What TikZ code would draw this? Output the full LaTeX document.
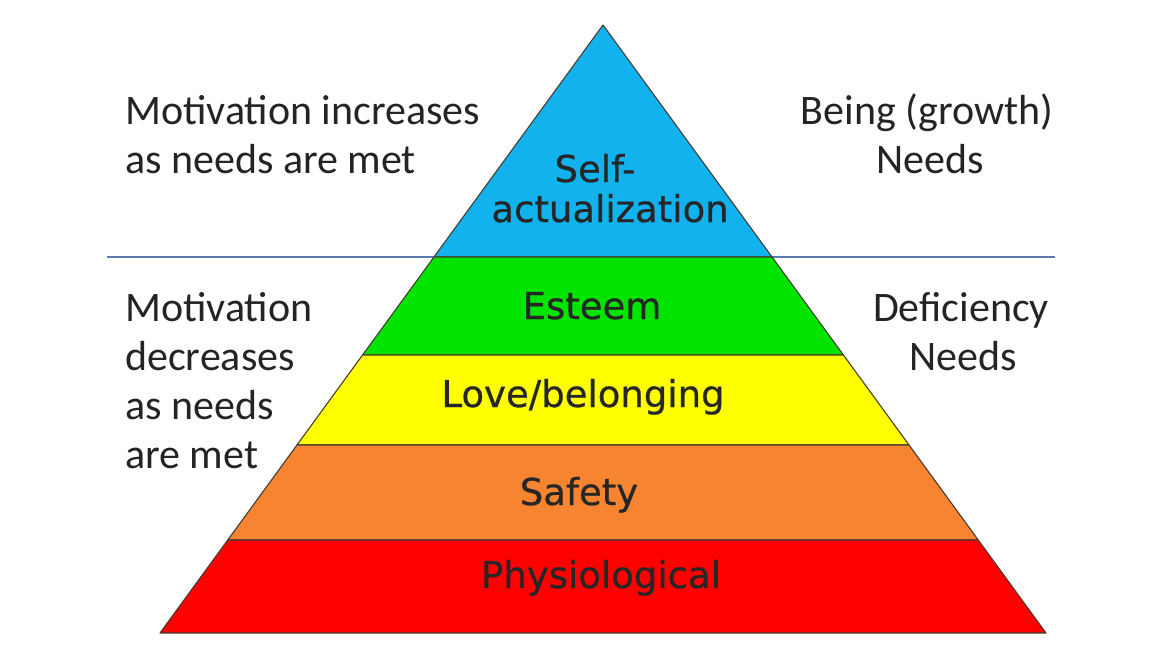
\documentclass[tikz,border=0pt]{standalone}
\usepackage{fontspec}
\setmainfont{Carlito}
\newfontfamily\labfont[FakeBold=0.6]{DejaVu Sans}
\usetikzlibrary{calc}
\definecolor{lvblue}{RGB}{18,178,238}
\definecolor{lvgreen}{RGB}{0,228,0}
\definecolor{lvyellow}{RGB}{255,255,0}
\definecolor{lvorange}{RGB}{246,132,48}
\definecolor{lvred}{RGB}{255,0,0}
\definecolor{sepline}{RGB}{92,122,176}
\definecolor{txt}{RGB}{36,36,36}
\definecolor{edge}{RGB}{70,60,50}
\tikzset{
  layer/.style={draw=edge, line width=1.1pt, line join=round},
  sidetext/.style={anchor=base west, inner sep=0pt, text=txt, font=\fontsize{42}{50}\selectfont},
  sidec/.style={anchor=base, inner sep=0pt, text=txt, font=\fontsize{42}{50}\selectfont},
  labtext/.style={anchor=base, inner sep=0pt, text=black!85, font=\labfont\fontsize{37}{42}\selectfont}
}
\begin{document}
\begin{tikzpicture}[x=1pt,y=-1pt]
\useasboundingbox (0,0) rectangle (1170,658);
\fill[white] (0,0) rectangle (1170,658);
% apex and base corners
\coordinate (A) at (603,25);
\coordinate (BL) at (160,633);
\coordinate (BR) at (1046,633);
\coordinate (L1) at ($(A)!0.38158!(BL)$);
\coordinate (R1) at ($(A)!0.38158!(BR)$);
\coordinate (L2) at ($(A)!0.54276!(BL)$);
\coordinate (R2) at ($(A)!0.54276!(BR)$);
\coordinate (L3) at ($(A)!0.69079!(BL)$);
\coordinate (R3) at ($(A)!0.69079!(BR)$);
\coordinate (L4) at ($(A)!0.84704!(BL)$);
\coordinate (R4) at ($(A)!0.84704!(BR)$);
% separator line
\coordinate (SL) at (107,257);
\coordinate (SR) at (1055,257);
\draw[sepline, line width=2.5pt] (SL) -- (SR);
% layers
\filldraw[layer, fill=lvblue] (A) -- (R1) -- (L1) -- cycle;
\filldraw[layer, fill=lvgreen] (L1) -- (R1) -- (R2) -- (L2) -- cycle;
\filldraw[layer, fill=lvyellow] (L2) -- (R2) -- (R3) -- (L3) -- cycle;
\filldraw[layer, fill=lvorange] (L3) -- (R3) -- (R4) -- (L4) -- cycle;
\filldraw[layer, fill=lvred] (L4) -- (R4) -- (BR) -- (BL) -- cycle;
% pyramid labels
\node[labtext] (self) at (595,182) {Self-};
\node[labtext] (act) at (610,222) {actualization};
\node[labtext] (est) at (592,319) {Esteem};
\node[labtext] (love) at (583,407) {Love/belonging};
\node[labtext] (safe) at (579,505) {Safety};
\node[labtext] (phys) at (601,588) {Physiological};
% left texts
\node[sidetext] (mi1) at (125,125) {Motivation increases};
\node[sidetext] (mi2) at (125,174) {as needs are met};
\node[sidetext] (md1) at (125,321) {Motivation};
\node[sidetext] (md2) at (125,370) {decreases};
\node[sidetext] (md3) at (125,419) {as needs};
\node[sidetext] (md4) at (125,468) {are met};
% right texts
\node[sidec] (bg1) at (927,125) {Being (growth)};
\node[sidec] (bg2) at (930,173) {Needs};
\node[sidec] (dn1) at (961,321) {Deficiency};
\node[sidec] (dn2) at (963,370) {Needs};
\end{tikzpicture}
\end{document}
